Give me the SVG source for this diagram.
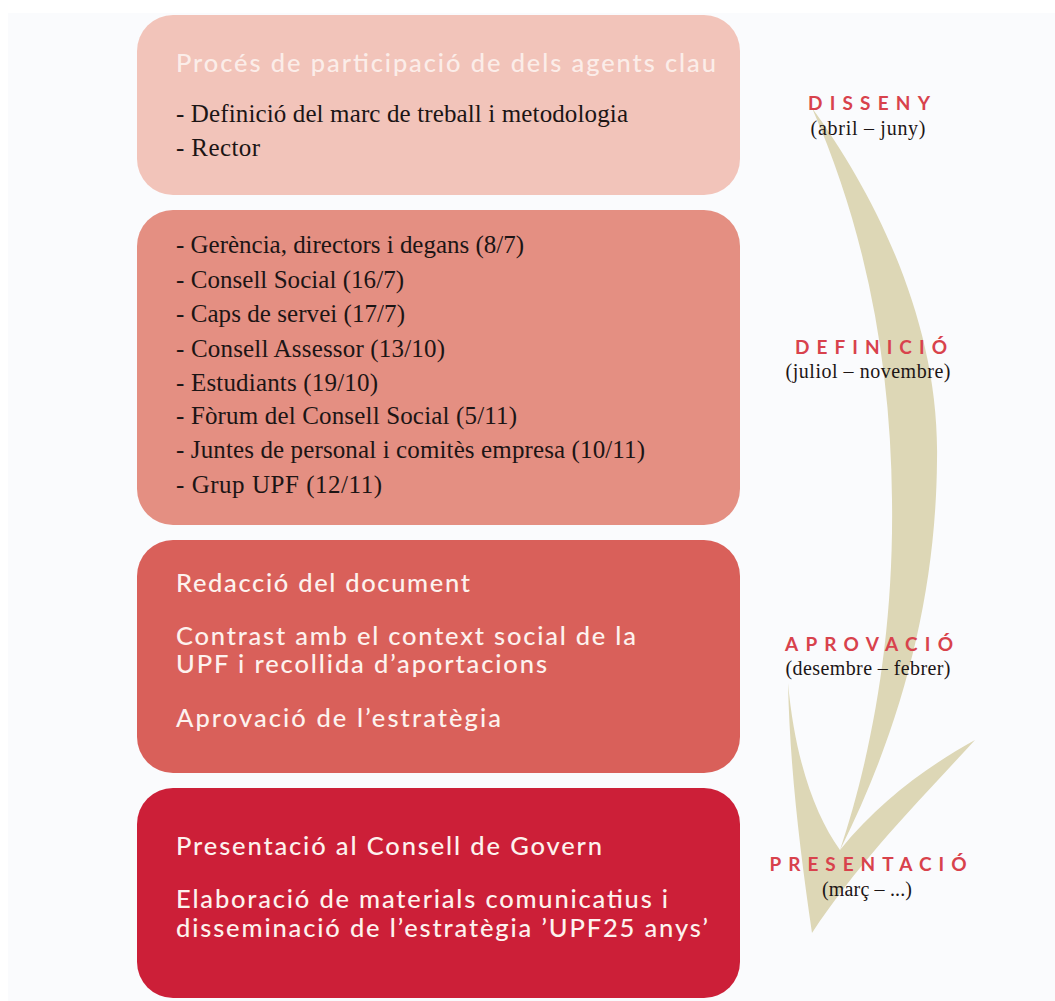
<svg xmlns="http://www.w3.org/2000/svg" width="1055" height="1001" viewBox="0 0 1055 1001">
<style>
.box{stroke:none}
.sans{font-family:Lato,"Open Sans","Liberation Sans",sans-serif;fill:#fdf2ee;font-size:25.5px;font-weight:500}
.serif{font-family:"Liberation Serif","DejaVu Serif",serif;fill:#1c1515;font-size:25px}
.ph{font-family:Lato,"Liberation Sans",sans-serif;fill:#d8424c;font-size:19px;font-weight:bold;text-anchor:middle}
.dt{font-family:"Liberation Serif","DejaVu Serif",serif;fill:#1c1515;font-size:20px;text-anchor:middle}
.arrow{fill:#ddd7b6}
</style>
<rect x="0" y="0" width="1055" height="1001" fill="#ffffff"/>
<rect x="8" y="13" width="1047" height="988" fill="#fafbfd"/>

<g id="connectors">
  <path class="arrow" d="M812,108 C872,190 940,320 937,460 C936,600 900,730 840,850 C870,760 894,640 892,500 C891,370 868,235 812,108 Z"/>
  <path class="arrow" d="M788,683 C795,760 815,815 840,850 C880,800 930,765 975,740 C920,800 860,860 812,933 C800,850 790,770 788,683 Z"/>
</g>

<g id="box-participacio">
  <rect class="box" x="137" y="15" width="603" height="180" rx="36" fill="#f2c4ba"/>
  <text class="sans" x="176" y="72" textLength="540" lengthAdjust="spacing" fill-opacity="0.92">Procés de participació de dels agents clau</text>
  <text class="serif" x="176" y="122" textLength="452" lengthAdjust="spacing">- Definició del marc de treball i metodologia</text>
  <text class="serif" x="176" y="156" textLength="84" lengthAdjust="spacing">- Rector</text>
</g>

<g id="box-agents">
  <rect class="box" x="137" y="210" width="603" height="315" rx="36" fill="#e48f82"/>
  <text class="serif" x="176" y="253" textLength="348" lengthAdjust="spacing">- Gerència, directors i degans (8/7)</text>
  <text class="serif" x="176" y="288" textLength="228" lengthAdjust="spacing">- Consell Social (16/7)</text>
  <text class="serif" x="176" y="322" textLength="229" lengthAdjust="spacing">- Caps de servei (17/7)</text>
  <text class="serif" x="176" y="357" textLength="269" lengthAdjust="spacing">- Consell Assessor (13/10)</text>
  <text class="serif" x="176" y="391" textLength="202" lengthAdjust="spacing">- Estudiants (19/10)</text>
  <text class="serif" x="176" y="424" textLength="341" lengthAdjust="spacing">- Fòrum del Consell Social (5/11)</text>
  <text class="serif" x="176" y="458" textLength="469" lengthAdjust="spacing">- Juntes de personal i comitès empresa (10/11)</text>
  <text class="serif" x="176" y="493" textLength="206" lengthAdjust="spacing">- Grup UPF (12/11)</text>
</g>

<g id="box-redaccio">
  <rect class="box" x="137" y="540" width="603" height="233" rx="36" fill="#d9605a"/>
  <text class="sans" x="176" y="592" textLength="294" lengthAdjust="spacing">Redacció del document</text>
  <text class="sans" x="176" y="645" textLength="460" lengthAdjust="spacing">Contrast amb el context social de la</text>
  <text class="sans" x="176" y="673" textLength="371" lengthAdjust="spacing">UPF i recollida d’aportacions</text>
  <text class="sans" x="176" y="727" textLength="325" lengthAdjust="spacing">Aprovació de l’estratègia</text>
</g>

<g id="box-presentacio">
  <rect class="box" x="137" y="788" width="603" height="210" rx="36" fill="#cc1f38"/>
  <text class="sans" x="176" y="855" textLength="426" lengthAdjust="spacing">Presentació al Consell de Govern</text>
  <text class="sans" x="176" y="908" textLength="492" lengthAdjust="spacing">Elaboració de materials comunicatius i</text>
  <text class="sans" x="176" y="937" textLength="532" lengthAdjust="spacing">disseminació de l’estratègia ’UPF25 anys’</text>
</g>

<g id="label-disseny">
  <text class="ph" x="869" y="110" textLength="122" lengthAdjust="spacing">DISSENY</text>
  <text class="dt" x="868" y="135" textLength="115" lengthAdjust="spacing">(abril – juny)</text>
</g>
<g id="label-definicio">
  <text class="ph" x="871" y="354" textLength="152" lengthAdjust="spacing">DEFINICIÓ</text>
  <text class="dt" x="868" y="378" textLength="165" lengthAdjust="spacing">(juliol – novembre)</text>
</g>
<g id="label-aprovacio">
  <text class="ph" x="869" y="651" textLength="168" lengthAdjust="spacing">APROVACIÓ</text>
  <text class="dt" x="868" y="675" textLength="165" lengthAdjust="spacing">(desembre – febrer)</text>
</g>
<g id="label-presentacio">
  <text class="ph" x="868" y="871" textLength="197" lengthAdjust="spacing">PRESENTACIÓ</text>
  <text class="dt" x="867" y="896" textLength="90" lengthAdjust="spacing">(març – ...)</text>
</g>
</svg>
